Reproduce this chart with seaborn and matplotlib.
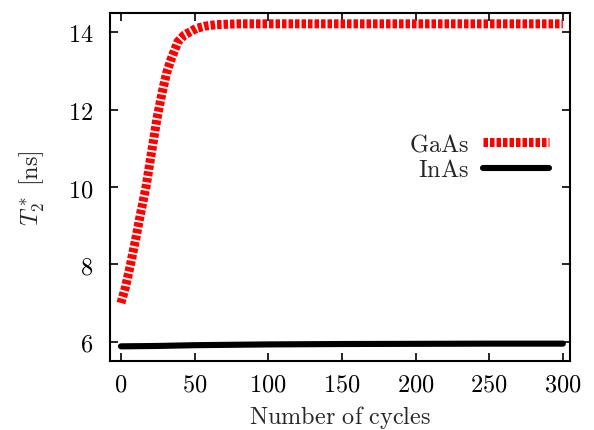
import matplotlib
matplotlib.use("Agg")
import matplotlib.pyplot as plt
import seaborn as sns
import pandas as pd
from matplotlib.ticker import FuncFormatter

gaas_x = [0, 3, 6.5, 10, 13, 17, 21, 24.5, 28, 31, 34, 38.7, 43, 51, 57, 65, 80, 100, 150, 200, 250, 300]
gaas_y = [7.0, 7.4, 8.0, 8.65, 9.25, 10.0, 10.95, 11.78, 12.45, 12.95, 13.3, 13.76, 13.93, 14.1, 14.16, 14.2, 14.22, 14.22, 14.22, 14.22, 14.22, 14.22]
inas_x = [0, 25, 50, 100, 150, 200, 250, 300]
inas_y = [5.88, 5.89, 5.91, 5.93, 5.94, 5.945, 5.95, 5.95]
x_ticks = [0, 50, 100, 150, 200, 250, 300]
y_ticks = [6, 8, 10, 12, 14]

sns.set_style("ticks")
plt.rcParams["mathtext.fontset"] = "cm"
plt.rcParams["font.family"] = ["DejaVu Serif"]

fig = plt.figure(figsize=(5.94, 4.31), dpi=100)
ax = fig.add_axes([0.185, 0.16, 0.775, 0.8075])

df_g = pd.DataFrame({"x": gaas_x, "y": gaas_y})
df_i = pd.DataFrame({"x": inas_x, "y": inas_y})

sns.lineplot(data=df_g, x="x", y="y", ax=ax, color="#ff0000", lw=6.5,
             linestyle=(0, (0.5, 0.22)), dash_capstyle="butt", label="$\\mathrm{GaAs}$")
sns.lineplot(data=df_i, x="x", y="y", ax=ax, color="black", lw=4.4,
             solid_capstyle="round", label="$\\mathrm{InAs}$")

ax.set_xlim(-7.5, 305)
ax.set_ylim(5.5, 14.5)
ax.set_xticks(x_ticks)
ax.set_yticks(y_ticks)
fmt = FuncFormatter(lambda v, p: "$\\mathrm{%g}$" % v)
ax.xaxis.set_major_formatter(fmt)
ax.yaxis.set_major_formatter(fmt)
ax.tick_params(direction="in", length=6, width=1.2, top=True, right=True,
               labelsize=17.5, pad=8, colors="black")
ax.tick_params(axis="y", pad=12)
for s in ax.spines.values():
    s.set_linewidth(1.5)
    s.set_color("black")

ax.set_xlabel("$\\mathrm{Number\\ of\\ cycles}$", fontsize=17.5, labelpad=6)
ax.set_ylabel("$T_2^*\\ \\mathrm{[ns]}$", fontsize=17.5, labelpad=15)

leg = ax.legend(loc="upper right", bbox_to_anchor=(0.975, 0.685), frameon=False,
                markerfirst=False, fontsize=17.5, handlelength=2.7,
                handletextpad=0.6, labelspacing=0.12, borderaxespad=0)

fig.savefig("out.png", dpi=100)
